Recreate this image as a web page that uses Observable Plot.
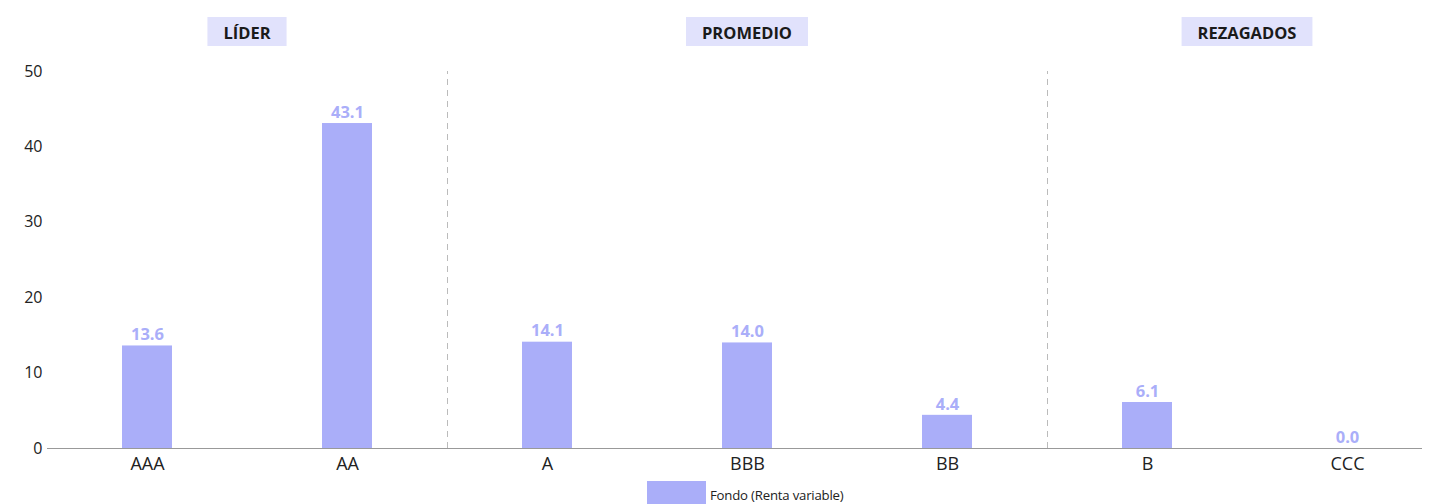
<!DOCTYPE html>
<html>
<head>
<meta charset="utf-8">
<script src="https://cdn.jsdelivr.net/npm/d3@7"></script>
<script src="https://cdn.jsdelivr.net/npm/@observablehq/plot@0.6"></script>
<style>
  html, body { margin: 0; padding: 0; background: #fff; overflow: hidden; }
  body { font-family: "Open Sans", sans-serif; width: 1438px; height: 504px; position: relative; }
  #legend { position: absolute; left: 647px; top: 481px; display: flex; align-items: flex-end; font-size: 13.2px; color: #222; letter-spacing: -0.2px; }
  #legend .sw { width: 59px; height: 28px; background: #aaaef9; margin-right: 4px; }
  #legend span { line-height: 14px; margin-bottom: 7px; }
</style>
</head>
<body>
<div id="chart"></div>
<div id="legend"><div class="sw"></div><span>Fondo (Renta variable)</span></div>
<script>
const categories = ["AAA", "AA", "A", "BBB", "BB", "B", "CCC"];
const values = [13.6, 43.1, 14.1, 14.0, 4.4, 6.1, 0.0];
const seriesName = "Fondo (Renta variable)";
const groupLabels = ["LÍDER", "PROMEDIO", "REZAGADOS"];
const groupAnchors = ["AAA", "BBB", "B"];      // category the label is tied to
const groupOffsets = [0.5, 0, 0.5];            // offset in steps from that category's centre
const dividerAfter = ["AA", "BB"];              // dashed separators after these categories
const yTicks = [0, 10, 20, 30, 40, 50];

const data = categories.map((c, i) => ({category: c, value: values[i], series: seriesName}));
const barColor = "#aaaef9";

const canvas = document.createElement("canvas");
const ctx = canvas.getContext("2d");
ctx.font = "bold 16.5px 'Open Sans'";

function groupHeaders(index, scales, values, dimensions) {
  const g = d3.create("svg:g");
  const step = scales.x.step ? scales.x.step() : 200;
  const bw = scales.x.bandwidth ? scales.x.bandwidth() : 0;
  groupLabels.forEach((label, i) => {
    const cx = scales.x(groupAnchors[i]) + bw / 2 + groupOffsets[i] * step;
    const w = ctx.measureText(label).width + 32;
    g.append("rect")
      .attr("x", cx - w / 2).attr("y", 17)
      .attr("width", w).attr("height", 29)
      .attr("fill", "#e1e2fc");
    g.append("text")
      .attr("x", cx).attr("y", 32)
      .attr("text-anchor", "middle")
      .attr("dominant-baseline", "central")
      .attr("font-weight", "bold")
      .attr("font-size", 16.5)
      .attr("fill", "#1a1a1a")
      .text(label);
  });
  return g.node();
}

const chart = Plot.plot({
  width: 1438,
  height: 478,
  marginTop: 71,
  marginBottom: 30,
  marginLeft: 47,
  marginRight: 16,
  style: {fontFamily: "'Open Sans', sans-serif", color: "#222", background: "#fff"},
  x: {domain: categories, range: [47, 1447], paddingInner: 0.75, paddingOuter: 0.375, label: null},
  y: {domain: [0, 50], label: null},
  marks: [
    Plot.axisY(yTicks, {tickSize: 0, tickPadding: 5, fontSize: 16, fill: "#222", label: null}),
    Plot.axisX({tickSize: 0, tickPadding: 9, fontSize: 18, fill: "#222", label: null}),
    Plot.ruleX(dividerAfter, {x: d => d, y1: 0, y2: 50, dx: 100, stroke: "#bbb", strokeWidth: 1, strokeDasharray: "6,5"}),
    Plot.barY(data, {x: "category", y: "value", fill: barColor}),
    Plot.ruleY([0], {stroke: "#999", strokeWidth: 1}),
    Plot.text(data, {x: "category", y: "value", text: d => d.value.toFixed(1), dy: -11, fill: barColor, fontWeight: "bold", fontSize: 16.5}),
    groupHeaders
  ]
});
document.getElementById("chart").appendChild(chart);
</script>
</body>
</html>
